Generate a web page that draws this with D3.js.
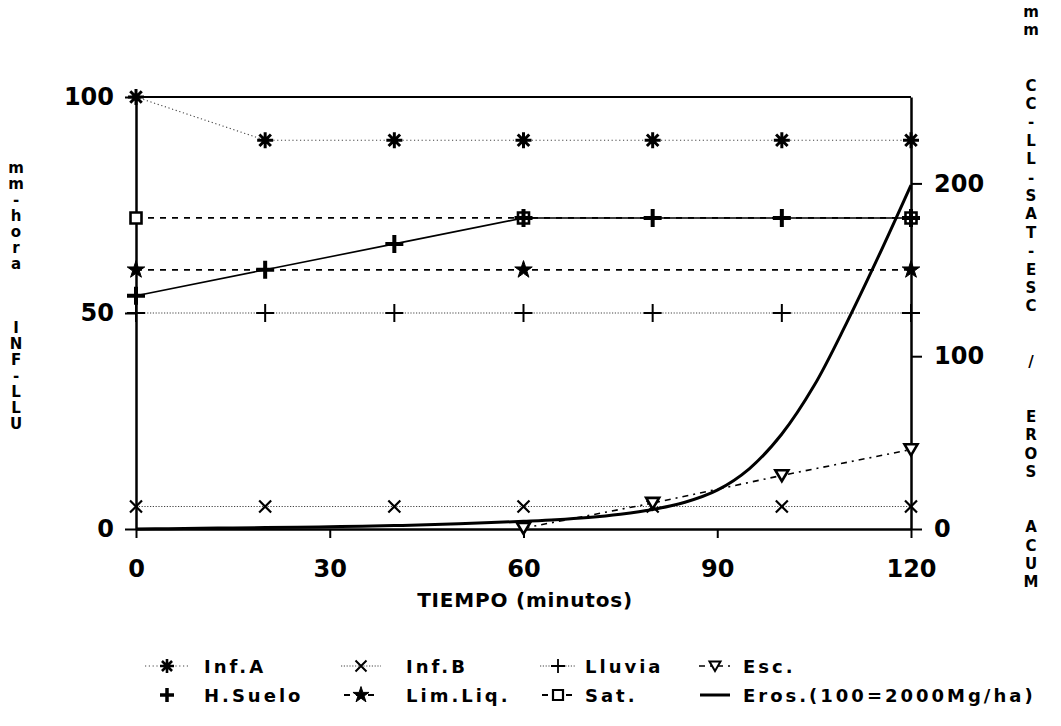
<!DOCTYPE html>
<html><head><meta charset="utf-8">
<script src="https://cdn.jsdelivr.net/npm/d3@7"></script>
<style>
html,body{margin:0;padding:0;background:#fff;}
svg text{font-family:"DejaVu Sans",sans-serif;font-weight:bold;fill:#000;}
</style></head>
<body>
<svg id="chart" width="1061" height="726"></svg>
<script>
// ---- data ----
const minutes = [0, 20, 40, 60, 80, 100, 120];
const infA   = [100, 90, 90, 90, 90, 90, 90];
const infB   = [5.2, 5.2, 5.2, 5.2, 5.2, 5.2, 5.2];
const lluvia = [50, 50, 50, 50, 50, 50, 50];
const hSuelo = [135, 150, 165, 180, 180, 180, 180];
const satMinutes = [0, 60, 120];
const sat    = [180, 180, 180];
const limLiq = [150, 150, 150];
const escMinutes = [60, 80, 100, 120];
const esc    = [0.5, 15, 31, 46];
const erosMinutes = [0,5,10,15,20,25,30,35,40,45,50,55,60,65,70,75,80,85,90,95,100,105,110,115,120];
const eros   = [0,0.2,0.4,0.6,0.8,1.0,1.3,1.6,2,2.4,3,3.7,4.5,5.4,6.7,8.6,11.3,15.5,22.5,35,55,83,119,158,199];
const xTicks = [0, 30, 60, 90, 120];
const yLeftTicks = [0, 50, 100];
const yRightTicks = [0, 100, 200];
const leftLabel = "mm-hora   INF-LLU";
const rightLabel = "mm  CC-LL-SAT-ESC  /  EROS  ACUM";
const xTitle = "TIEMPO (minutos)";
const legendRow1 = ["Inf.A", "Inf.B", "Lluvia", "Esc."];
const legendRow2 = ["H.Suelo", "Lim.Liq.", "Sat.", "Eros.(100=2000Mg/ha)"];

// ---- layout ----
const svg = d3.select("#chart");
const x = d3.scaleLinear().domain([0, 120]).range([136, 911]);
const yL = d3.scaleLinear().domain([0, 100]).range([529, 97]);
const yR = d3.scaleLinear().domain([0, 250]).range([529, 97]);

// symbol paths
function pAsterisk(r){const d=r*0.72;return `M${-r},0L${r},0M0,${-r}L0,${r}M${-d},${-d}L${d},${d}M${-d},${d}L${d},${-d}`;}
function pTimes(r){return `M${-r},${-r}L${r},${r}M${-r},${r}L${r},${-r}`;}
function pPlus(r){return `M${-r},0L${r},0M0,${-r}L0,${r}`;}
function pSquare(r){return `M${-r},${-r}H${r}V${r}H${-r}Z`;}
function pTriDown(r){return `M${-r},${-r*0.8}H${r}L0,${r*0.9}Z`;}
const starPath = d3.symbol().type(d3.symbolStar).size(95)();
const starPathLeg = d3.symbol().type(d3.symbolStar).size(80)();

const styles = {
  infA:   {dash:"1.2,2.6", w:1.1, color:"#444"},
  infB:   {dash:"1.2,1.6", w:1.1, color:"#444"},
  lluvia: {dash:"1.2,1.6", w:1.1, color:"#444"},
  hSuelo: {dash:null, w:1.6, color:"#000"},
  sat:    {dash:"6,6", w:1.8, color:"#000"},
  limLiq: {dash:"6,6", w:1.8, color:"#000"},
  esc:    {dash:"6,5,2,5", w:1.6, color:"#000"},
  eros:   {dash:null, w:3, color:"#000"}
};

function drawLine(xs, ys, yScale, st, curve){
  const pts = xs.map((m,i)=>[m, ys[i]]);
  const line = d3.line().x(d=>x(d[0])).y(d=>yScale(d[1])).curve(curve||d3.curveLinear);
  svg.append("path").attr("d", line(pts)).attr("fill","none")
    .attr("stroke", st.color).attr("stroke-width", st.w)
    .attr("stroke-dasharray", st.dash);
}
function drawMarks(xs, ys, yScale, path, opt){
  svg.append("g").selectAll("path").data(xs.map((m,i)=>[m, ys[i]])).join("path")
    .attr("transform", d=>`translate(${x(d[0])},${yScale(d[1])})`)
    .attr("d", path)
    .attr("fill", opt.fill||"none").attr("stroke", opt.stroke||"#000")
    .attr("stroke-width", opt.sw||2);
}

// lines
drawLine(minutes, infA, yL, styles.infA);
drawLine(minutes, infB, yL, styles.infB);
drawLine(minutes, lluvia, yL, styles.lluvia);
drawLine(satMinutes, sat, yR, styles.sat);
drawLine(satMinutes, limLiq, yR, styles.limLiq);
drawLine(minutes, hSuelo, yR, styles.hSuelo);
drawLine(escMinutes, esc, yR, styles.esc);
drawLine(erosMinutes, eros, yR, styles.eros, d3.curveCatmullRom.alpha(0.5));

// axes / frame
svg.append("line").attr("x1",x(0)).attr("x2",x(120)).attr("y1",yL(100)).attr("y2",yL(100)).attr("stroke","#000").attr("stroke-width",2.2);

const axL = svg.append("g").attr("transform",`translate(${x(0)},0)`)
  .call(d3.axisLeft(yL).tickValues(yLeftTicks).tickSize(11).tickPadding(11).tickSizeOuter(0));
const axR = svg.append("g").attr("transform",`translate(${x(120)},0)`)
  .call(d3.axisRight(yR).tickValues(yRightTicks).tickSize(11).tickPadding(12).tickSizeOuter(0));
const axB = svg.append("g").attr("transform",`translate(0,${yL(0)})`)
  .call(d3.axisBottom(x).tickValues(xTicks).tickSize(9).tickPadding(20).tickSizeOuter(0));
[axL, axR, axB].forEach(a=>{
  a.select(".domain").attr("stroke","#000").attr("stroke-width",2.5);
  a.selectAll(".tick line").attr("stroke","#000").attr("stroke-width",2);
  a.selectAll(".tick text").style("font-family","'DejaVu Sans',sans-serif")
   .style("font-weight","bold").style("font-size","24px").attr("fill","#000");
});
axB.selectAll(".tick text").attr("dy","0.71em").attr("y",31);

// markers
drawMarks(minutes, infA, yL, pAsterisk(8), {sw:3});
drawMarks(minutes, infB, yL, pTimes(6), {sw:2.2});
drawMarks(minutes, lluvia, yL, pPlus(9), {sw:2});
drawMarks(satMinutes, sat, yR, pSquare(5.5), {sw:2.6, fill:"#fff"});
drawMarks(satMinutes, limLiq, yR, starPath, {fill:"#000", stroke:"#000", sw:1});
drawMarks(minutes, hSuelo, yR, pPlus(9), {sw:4});
drawMarks(escMinutes, esc, yR, pTriDown(6.5), {sw:2.6, fill:"#fff"});

// x title
svg.append("text").attr("x", 525).attr("y", 607).attr("text-anchor","middle")
  .style("font-size","20px").style("letter-spacing","0.8px").text(xTitle);

// vertical stacked labels
function stacked(str, cx, y0, step, size){
  const g = svg.append("g");
  str.split("").forEach((ch,i)=>{
    if(ch===" ") return;
    g.append("text").attr("x",cx).attr("y",y0+i*step).attr("text-anchor","middle")
      .attr("dominant-baseline","central").style("font-size",size+"px").text(ch);
  });
}
stacked(leftLabel, 16, 168, 16, 15);
stacked(rightLabel, 1031, 12, 18.4, 15);

// legend
const legX = [167, 361, 558, 715];
const legTX = [204, 406, 585, 743];
const row1Y = 666, row2Y = 695;
function legLine(cx, y, st, half){
  svg.append("line").attr("x1",cx-half).attr("x2",cx+half).attr("y1",y).attr("y2",y)
    .attr("stroke",st.color).attr("stroke-width",st.w).attr("stroke-dasharray",st.dash);
}
function legMark(cx, y, path, opt){
  svg.append("path").attr("transform",`translate(${cx},${y})`).attr("d",path)
    .attr("fill",opt.fill||"none").attr("stroke",opt.stroke||"#000").attr("stroke-width",opt.sw||2);
}
// row 1
legLine(legX[0], row1Y, styles.infA, 22); legMark(legX[0], row1Y, pAsterisk(7), {sw:2.6});
legLine(legX[1], row1Y, styles.infB, 20); legMark(legX[1], row1Y, pTimes(5.5), {sw:2});
legLine(legX[2], row1Y, styles.lluvia, 18); legMark(legX[2], row1Y, pPlus(7), {sw:1.8});
legLine(legX[3], row1Y, styles.esc, 16); legMark(legX[3], row1Y, pTriDown(5.5), {sw:2, fill:"#fff"});
// row 2
legMark(legX[0], row2Y, pPlus(7), {sw:3.5});
legLine(legX[1], row2Y, styles.limLiq, 17); legMark(legX[1], row2Y, starPathLeg, {fill:"#000", sw:1});
legLine(legX[2], row2Y, styles.sat, 16); legMark(legX[2], row2Y, pSquare(5), {sw:2.2, fill:"#fff"});
legLine(legX[3], row2Y, styles.eros, 15);
legendRow1.forEach((t,i)=>svg.append("text").attr("x",legTX[i]).attr("y",row1Y).attr("dominant-baseline","central").style("font-size","18px").style("letter-spacing","3px").text(t));
legendRow2.forEach((t,i)=>svg.append("text").attr("x",legTX[i]).attr("y",row2Y).attr("dominant-baseline","central").style("font-size","18px").style("letter-spacing","3px").text(t));
</script>
</body></html>
